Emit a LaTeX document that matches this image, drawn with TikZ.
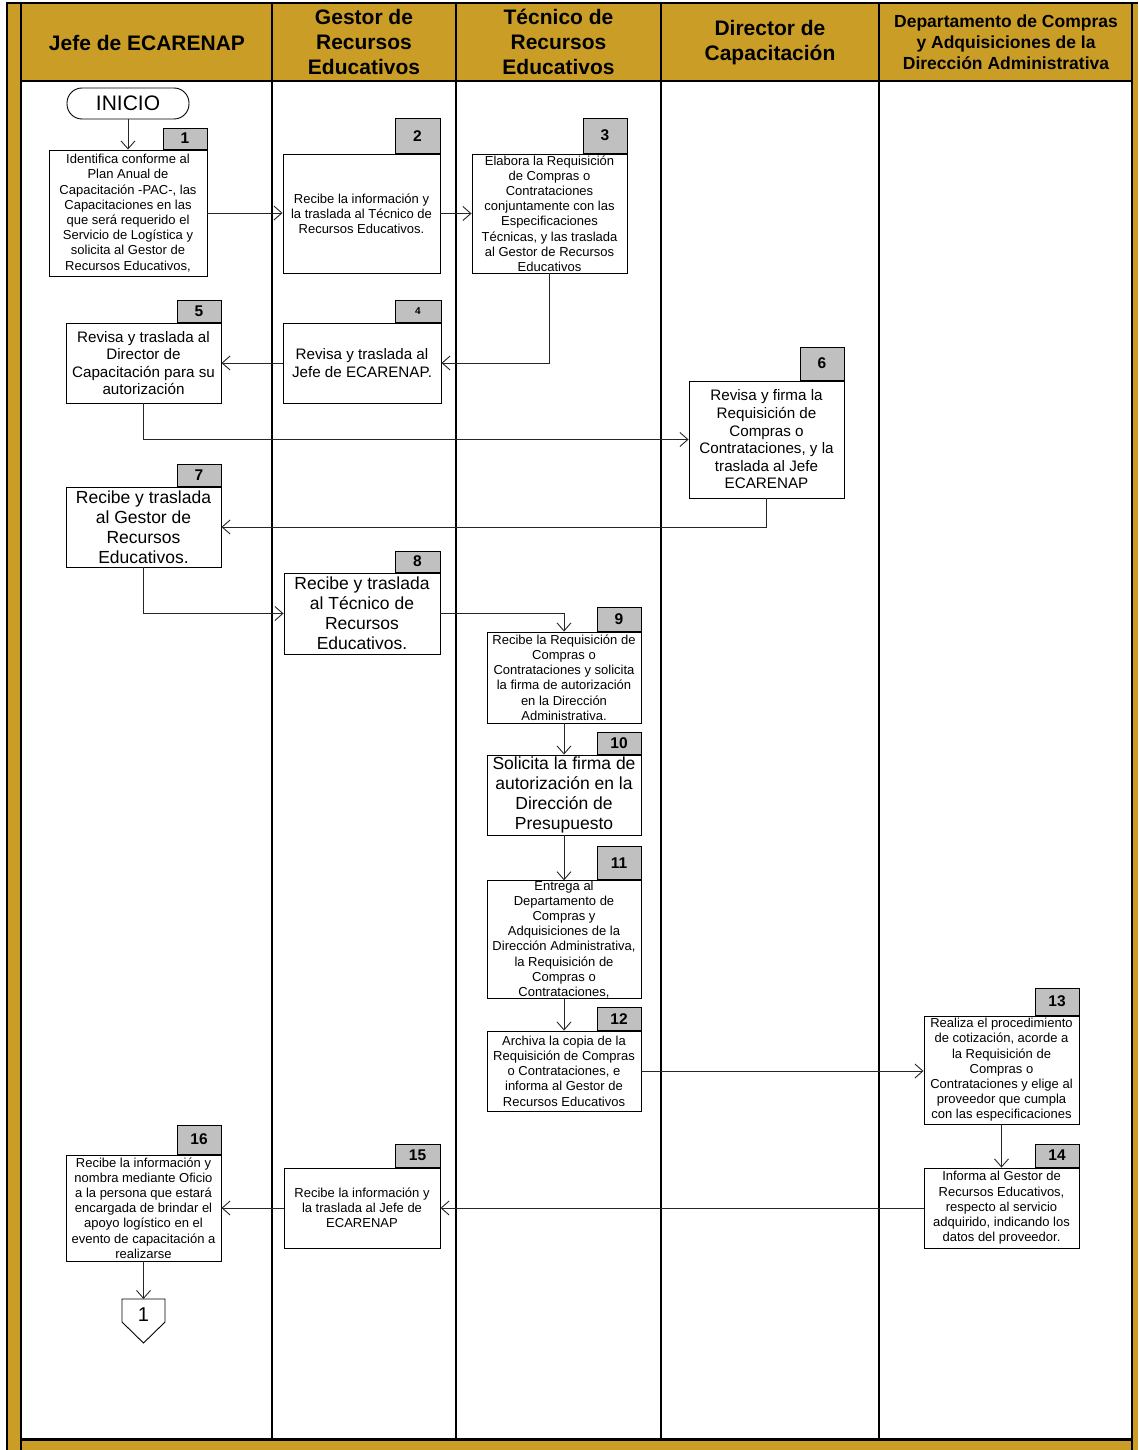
\documentclass[tikz,border=0pt]{standalone}
\usepackage{fontspec}
\setmainfont{Liberation Sans}
\usetikzlibrary{arrows.meta,calc}
\definecolor{gold}{RGB}{202,158,38}
\definecolor{tabgray}{RGB}{192,192,192}
\begin{document}
\begin{tikzpicture}[x=1pt,y=-1pt,
  hdr/.style={align=center,inner sep=0pt,font=\bfseries\fontsize{21}{25}\selectfont},
  hdrs/.style={align=center,inner sep=0pt,font=\bfseries\fontsize{17.5}{21}\selectfont},
  pbox/.style={draw=black,line width=0.9pt,fill=white,align=center,inner sep=1pt,font=\fontsize{13}{15.2}\selectfont},
  mbox/.style={pbox,font=\fontsize{15.2}{17.6}\selectfont},
  lbox/.style={pbox,font=\fontsize{17.5}{20}\selectfont},
  tab/.style={draw=black,line width=0.9pt,fill=tabgray,inner sep=0pt,anchor=south east,font=\bfseries\fontsize{15.5}{16}\selectfont},
  conn/.style={draw=black!85,line width=0.9pt,-{Straight Barb[length=8pt,width=14pt]}},
  colline/.style={line width=2.2pt,black}]
\useasboundingbox (0,0) rectangle (1138,1450);
% frame
\fill[gold] (7,3) rectangle (1138,1450);
\fill[white] (21,81) rectangle (1132,1439);
\draw[line width=2pt] (7,1450) -- (7,3) -- (1138,3);
\draw[line width=2.6pt] (21,1450) -- (21,4);
\draw[line width=2.6pt] (1132,4) -- (1132,1450);
\draw[line width=2.4pt] (21,81) -- (1132,81);
\draw[line width=3pt] (21,1439) -- (1132,1439);
\foreach \xx in {272,456,661,879} \draw[colline] (\xx,4) -- (\xx,1439);
% headers
\node[hdr] (h1) at (147,43) {Jefe de ECARENAP};
\node[hdr] (h2) at (364,42) {Gestor de\\Recursos\\Educativos};
\node[hdr] (h3) at (558.5,42) {Técnico de\\Recursos\\Educativos};
\node[hdr] (h4) at (770,42.5) {Director de\\Capacitación};
\node[hdrs] (h5) at (1006,42) {Departamento de Compras\\y Adquisiciones de la\\Dirección Administrativa};
% start
\node[draw=black,line width=0.9pt,rounded corners=15pt,minimum width=122pt,minimum height=31pt,inner sep=0pt,font=\fontsize{21}{24}\selectfont] (ini) at (128,103.5) {INICIO};
% boxes
\node[pbox,minimum width=158pt,minimum height=126pt] (b1) at (128,213) {Identifica conforme al\\Plan Anual de\\Capacitación -PAC-, las\\Capacitaciones en las\\que será requerido el\\Servicio de Logística y\\solicita al Gestor de\\Recursos Educativos,};
\node[tab,minimum width=44pt,minimum height=21pt] (t1) at (b1.north east) {1};
\node[pbox,minimum width=157pt,minimum height=119pt] (b2) at (361.5,213.5) {Recibe la información y\\la traslada al Técnico de\\Recursos Educativos.};
\node[tab,minimum width=45pt,minimum height=35pt] (t2) at (b2.north east) {2};
\node[pbox,minimum width=155pt,minimum height=119pt,inner sep=0pt] (b3) at (549.5,213.5) {Elabora la Requisición\\de Compras o\\Contrataciones\\conjuntamente con las\\Especificaciones\\Técnicas, y las traslada\\al Gestor de Recursos\\Educativos};
\node[tab,minimum width=44pt,minimum height=35pt] (t3) at (b3.north east) {3};
\node[mbox,minimum width=158pt,minimum height=80pt] (b4) at (362,363) {Revisa y traslada al\\Jefe de ECARENAP.};
\node[tab,minimum width=46pt,minimum height=22pt,font=\bfseries\fontsize{10}{12}\selectfont] (t4) at (b4.north east) {4};
\node[mbox,minimum width=155pt,minimum height=80pt] (b5) at (143.5,363) {Revisa y traslada al\\Director de\\Capacitación para su\\autorización};
\node[tab,minimum width=44pt,minimum height=22pt] (t5) at (b5.north east) {5};
\node[mbox,minimum width=155pt,minimum height=117pt] (b6) at (766.5,439.5) {Revisa y firma la\\Requisición de\\Compras o\\Contrataciones, y la\\traslada al Jefe\\ECARENAP};
\node[tab,minimum width=44pt,minimum height=33pt] (t6) at (b6.north east) {6};
\node[lbox,minimum width=155pt,minimum height=80pt] (b7) at (143.5,527) {Recibe y traslada\\al Gestor de\\Recursos\\Educativos.};
\node[tab,minimum width=44pt,minimum height=22pt] (t7) at (b7.north east) {7};
\node[lbox,minimum width=156pt,minimum height=81pt] (b8) at (362,613.5) {Recibe y traslada\\al Técnico de\\Recursos\\Educativos.};
\node[tab,minimum width=45pt,minimum height=21pt] (t8) at (b8.north east) {8};
\node[pbox,minimum width=154pt,minimum height=91pt] (b9) at (564,677.5) {Recibe la Requisición de\\Compras o\\Contrataciones y solicita\\la firma de autorización\\en la Dirección\\Administrativa.};
\node[tab,minimum width=44pt,minimum height=24pt] (t9) at (b9.north east) {9};
\node[lbox,minimum width=154pt,minimum height=80pt] (b10) at (564,795) {Solicita la firma de\\autorización en la\\Dirección de\\Presupuesto};
\node[tab,minimum width=44pt,minimum height=22pt] (t10) at (b10.north east) {10};
\node[pbox,minimum width=154pt,minimum height=117pt,inner sep=0pt] (b11) at (564,939.5) {Entrega al\\Departamento de\\Compras y\\Adquisiciones de la\\Dirección Administrativa,\\la Requisición de\\Compras o\\Contrataciones,};
\node[tab,minimum width=44pt,minimum height=33pt] (t11) at (b11.north east) {11};
\node[pbox,minimum width=154pt,minimum height=80pt] (b12) at (564,1071) {Archiva la copia de la\\Requisición de Compras\\o Contrataciones, e\\informa al Gestor de\\Recursos Educativos};
\node[tab,minimum width=44pt,minimum height=23pt] (t12) at (b12.north east) {12};
\node[pbox,minimum width=155pt,minimum height=108pt] (b13) at (1001.5,1070) {Realiza el procedimiento\\de cotización, acorde a\\la Requisición de\\Compras o\\Contrataciones y elige al\\proveedor que cumpla\\con las especificaciones};
\node[tab,minimum width=44pt,minimum height=27pt] (t13) at (b13.north east) {13};
\node[pbox,minimum width=155pt,minimum height=80pt] (b14) at (1001.5,1208) {Informa al Gestor de\\Recursos Educativos,\\respecto al servicio\\adquirido, indicando los\\datos del proveedor.};
\node[tab,minimum width=44pt,minimum height=23pt] (t14) at (b14.north east) {14};
\node[pbox,minimum width=156pt,minimum height=80pt] (b15) at (362,1208) {Recibe la información y\\la traslada al Jefe de\\ECARENAP};
\node[tab,minimum width=45pt,minimum height=23pt] (t15) at (b15.north east) {15};
\node[pbox,minimum width=155pt,minimum height=106pt] (b16) at (143.5,1208) {Recibe la información y\\nombra mediante Oficio\\a la persona que estará\\encargada de brindar el\\apoyo logístico en el\\evento de capacitación a\\realizarse};
\node[tab,minimum width=44pt,minimum height=29pt] (t16) at (b16.north east) {16};
% off-page connector
\coordinate (c1top) at (143.5,1299);
\draw[draw=black,line width=0.9pt,fill=white] (122,1299) -- (165,1299) -- (165,1322) -- (143.5,1343) -- (122,1322) -- cycle;
\node[inner sep=0pt,font=\fontsize{20}{24}\selectfont] (c1) at (143.5,1315) {1};
% connectors
\draw[conn] (ini.south) -- (b1.north);
\draw[conn] (b1.east) -- (b1.east -| b2.west);
\draw[conn] (b2.east) -- (b2.east -| b3.west);
\draw[conn] (b3.south) |- (b4.east);
\draw[conn] (b4.west) -- (b4.west -| b5.east);
\draw[conn] (b5.south) |- (b6.west);
\draw[conn] (b6.south) |- (b7.east);
\draw[conn] (b7.south) |- (b8.west);
\draw[conn] (b8.east) -| (b9.north);
\draw[conn] (b9.south) -- (b10.north);
\draw[conn] (b10.south) -- (b11.north);
\draw[conn] (b11.south) -- (b12.north);
\draw[conn] (b12.east) -- (b12.east -| b13.west);
\draw[conn] (b13.south) -- (b14.north);
\draw[conn] (b14.west) -- (b14.west -| b15.east);
\draw[conn] (b15.west) -- (b15.west -| b16.east);
\draw[conn] (b16.south) -- (c1top);
\end{tikzpicture}
\end{document}
